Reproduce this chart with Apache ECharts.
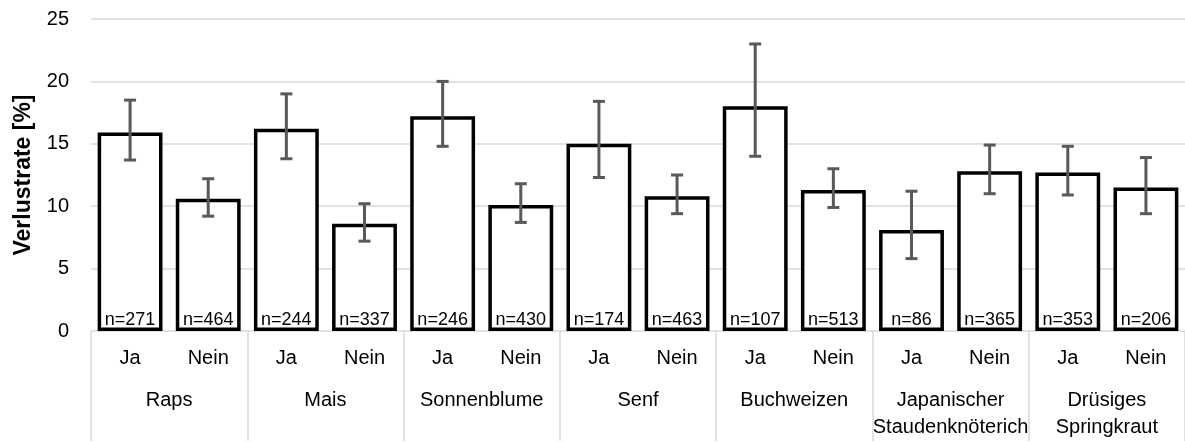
<!DOCTYPE html>
<html><head><meta charset="utf-8">
<script src="https://cdn.jsdelivr.net/npm/echarts@6/dist/echarts.min.js"></script>
<style>html,body{margin:0;padding:0;background:#fff}#c{width:1185px;height:442px}</style>
</head><body><div id="c"></div>
<script>
const groups = ['Raps','Mais','Sonnenblume','Senf','Buchweizen','Japanischer\nStaudenknöterich','Drüsiges\nSpringkraut'];
const subCats = ['Ja','Nein','Ja','Nein','Ja','Nein','Ja','Nein','Ja','Nein','Ja','Nein','Ja','Nein'];
const values = [15.9,10.6,16.2,8.6,17.2,10.1,15.0,10.8,18.0,11.3,8.1,12.8,12.7,11.5];
const errHigh = [18.5,12.2,19.0,10.2,20.0,11.8,18.4,12.5,23.0,13.0,11.2,14.9,14.8,13.9];
const errLow  = [13.7,9.2,13.8,7.2,14.8,8.7,12.3,9.4,14.0,9.9,5.8,11.0,10.9,9.4];
const nLabels = ['n=271','n=464','n=244','n=337','n=246','n=430','n=174','n=463','n=107','n=513','n=86','n=365','n=353','n=206'];
const yTicks = [0,5,10,15,20,25];

const font = '"Liberation Sans", Arial, sans-serif';
const chart = echarts.init(document.getElementById('c'), null, {renderer:'canvas'});
chart.setOption({
  animation:false,
  backgroundColor:'#fff',
  grid:{left:91, right:-4, top:19, bottom:111, containLabel:false},
  xAxis:[
    {type:'category', data:subCats, axisLine:{show:false}, axisTick:{show:false},
     axisLabel:{fontFamily:font, fontSize:20, color:'#000', margin:17, interval:0}},
    {type:'category', data:groups, position:'bottom', gridIndex:0,
     axisLine:{show:false},
     axisTick:{show:true, length:110, lineStyle:{color:'#d9d9d9', width:1.5}},
     axisLabel:{fontFamily:font, fontSize:20, color:'#000', margin:56, interval:0, lineHeight:27, verticalAlign:'top'}}
  ],
  yAxis:{type:'value', min:0, max:25, interval:5,
    name:'Verlustrate [%]', nameLocation:'middle', nameGap:56,
    nameTextStyle:{fontFamily:font, fontSize:23, fontWeight:'bold', color:'#000'},
    axisLine:{show:false}, axisTick:{show:false},
    axisLabel:{fontFamily:font, fontSize:20, color:'#000', margin:22,
      formatter:(v)=> yTicks.includes(v) ? String(v) : ''},
    splitLine:{show:true, lineStyle:{color:'#d9d9d9', width:1.5}}},
  series:[
    {type:'bar', data:values, xAxisIndex:0, barCategoryGap:'17%',
     itemStyle:{color:'#fff', borderColor:'#000', borderWidth:3.5},
     label:{show:true, position:'insideBottom', distance:2,
       formatter:(p)=>nLabels[p.dataIndex],
       fontFamily:font, fontSize:18, color:'#000'}},
    {type:'custom', xAxisIndex:0,
     data: values.map((v,i)=>[i, errLow[i], errHigh[i]]),
     renderItem:(params, api)=>{
       const x = api.value(0);
       const lo = api.coord([x, api.value(1)]);
       const hi = api.coord([x, api.value(2)]);
       const hw = 6;
       const st = {stroke:'#595959', lineWidth:3};
       return {type:'group', children:[
         {type:'line', shape:{x1:lo[0], y1:lo[1], x2:hi[0], y2:hi[1]}, style:st},
         {type:'line', shape:{x1:lo[0]-hw, y1:lo[1], x2:lo[0]+hw, y2:lo[1]}, style:st},
         {type:'line', shape:{x1:hi[0]-hw, y1:hi[1], x2:hi[0]+hw, y2:hi[1]}, style:st}
       ]};
     }, z:5}
  ]
});
</script></body></html>
